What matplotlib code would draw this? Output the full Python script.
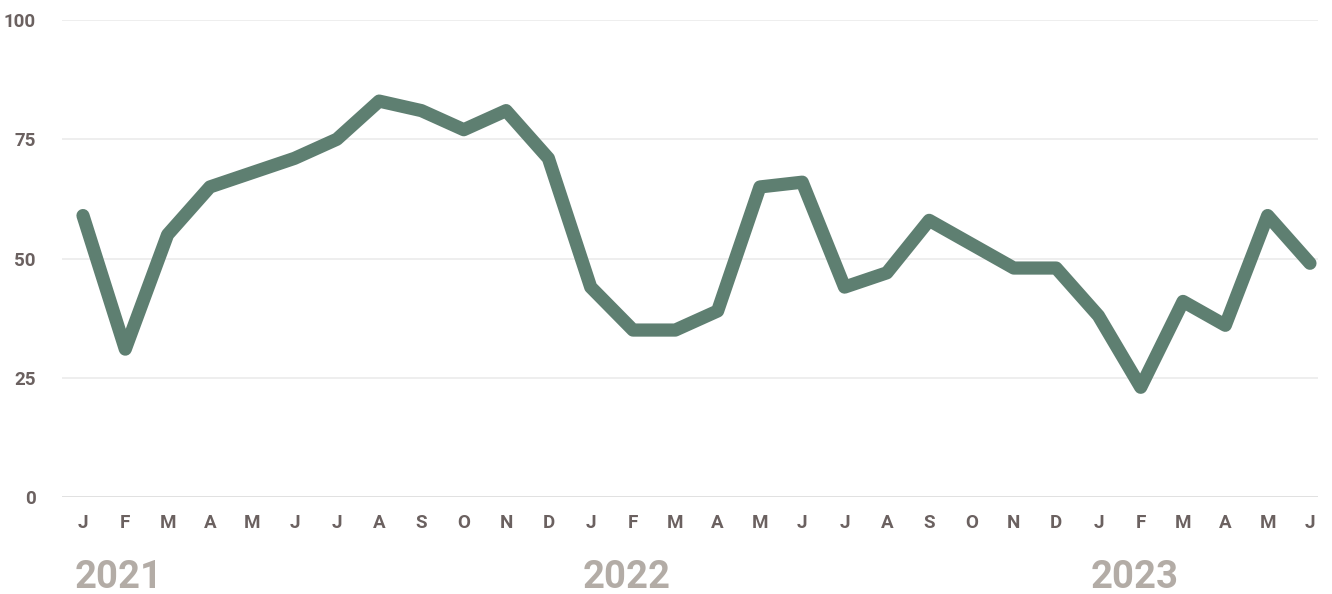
import numpy as np
import matplotlib
matplotlib.use("Agg")
import matplotlib.pyplot as plt

# data
months = ["J", "F", "M", "A", "M", "J", "J", "A", "S", "O", "N", "D",
          "J", "F", "M", "A", "M", "J", "J", "A", "S", "O", "N", "D",
          "J", "F", "M", "A", "M", "J"]
values = [59, 31, 55, 65, 68, 71, 75, 83, 81, 77, 81, 71,
          44, 35, 35, 39, 65, 66, 44, 47, 58, 53, 48, 48,
          38, 23, 41, 36, 59, 49]
years = ["2021", "2022", "2023"]
year_start = [0, 12, 24]
yticks = [0, 25, 50, 75, 100]

line_color = "#5e7f71"
tick_color = "#6b6160"
year_color = "#b3aca6"
grid_color = "#ebebeb"

plt.rcParams['font.family'] = ['Roboto', 'DejaVu Sans']

fig = plt.figure(figsize=(13.32, 5.94), dpi=100)
fig.patch.set_facecolor('white')
ax = fig.add_axes([62/1332, 97/594, 1256/1332, 477/594])

x = np.arange(len(values))
ax.plot(x, values, color=line_color, lw=9.5, solid_capstyle='round',
        solid_joinstyle='round', clip_on=False, zorder=3)

ax.set_xlim(-0.496, 29.19)
ax.set_ylim(0, 100)

ax.set_yticks(yticks)
ax.set_yticklabels([str(v) for v in yticks])
for v in yticks:
    ax.axhline(v, color=grid_color if v else "#dcdcdc", lw=1.2, zorder=1)

ax.set_xticks(x)
ax.set_xticklabels(months)

for s in ax.spines.values():
    s.set_visible(False)

ax.tick_params(axis='both', length=0, labelcolor=tick_color, labelsize=13.5)
ax.tick_params(axis='x', pad=12)
ax.tick_params(axis='y', pad=19)
for lab in ax.get_xticklabels() + ax.get_yticklabels():
    lab.set_fontweight('bold')

for yr, st in zip(years, year_start):
    ax.text(st - 0.19, -0.169, yr, transform=ax.get_xaxis_transform(),
            ha='left', va='center', fontsize=27.5, fontweight='bold',
            color=year_color)

fig.savefig('out.png', dpi=100, facecolor='white')
